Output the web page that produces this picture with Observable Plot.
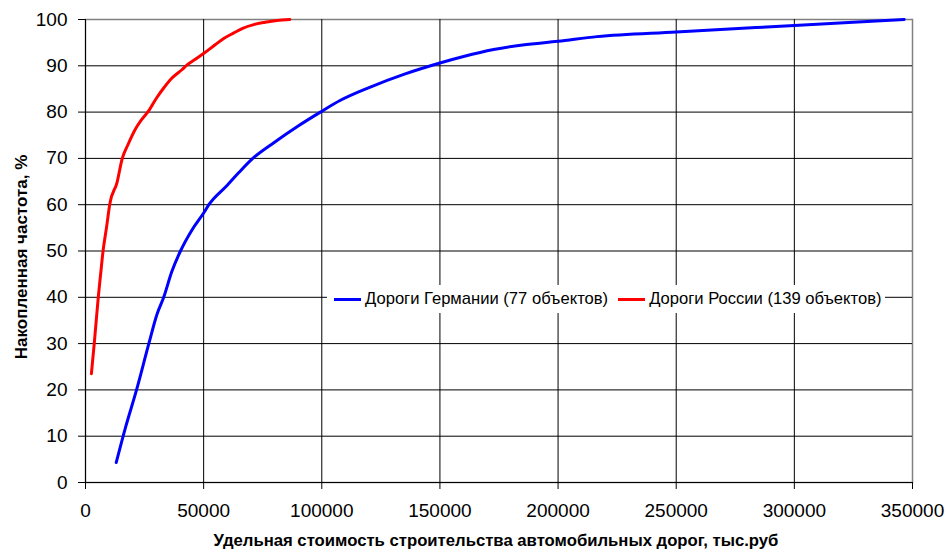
<!DOCTYPE html>
<html>
<head>
<meta charset="utf-8">
<script src="https://cdn.jsdelivr.net/npm/d3@7"></script>
<script src="https://cdn.jsdelivr.net/npm/@observablehq/plot@0.6"></script>
<style>
  html, body { margin: 0; padding: 0; background: #fff; }
  #wrap { position: relative; width: 949px; height: 550px; font-family: "Liberation Sans", Arial, sans-serif; }
  #legend { position: absolute; left: 327px; top: 285px; width: 558px; height: 28px; background: #fff;
            display: flex; align-items: center; font-size: 16.6px; color: #000; white-space: nowrap; }
  .sw { display: inline-block; width: 27px; height: 3px; }
</style>
</head>
<body>
<div id="wrap"></div>
<script>
// Cumulative frequency, Russia (139 objects)
const russiaX = [2500, 3700, 5400, 6300, 7500, 8900, 10300, 13400, 15500, 18000, 21200, 23500, 26800, 30000, 33100, 36500, 40900, 43000, 46500, 50100, 55000, 58500, 62800, 66500, 71200, 76000, 81000, 86500];
const russiaY = [23.5, 30, 40, 44.5, 50.3, 55.1, 60.2, 64.9, 69.9, 73, 76.4, 78.2, 80.3, 83, 85.2, 87.3, 89.2, 90.2, 91.4, 92.7, 94.6, 95.9, 97.1, 98.1, 98.9, 99.4, 99.8, 100];
// Cumulative frequency, Germany (77 objects)
const germanyX = [13000, 17000, 21600, 26800, 30300, 33100, 36500, 40200, 45000, 50000, 52200, 60000, 65000, 70800, 80000, 90000, 99400, 107700, 120000, 135000, 150000, 160000, 172700, 185000, 200000, 216500, 250000, 300000, 346500];
const germanyY = [4.3, 12, 20, 30, 36.4, 40, 45.5, 50, 54.5, 58.2, 60, 64.2, 67, 70, 73.5, 77, 80, 82.5, 85.3, 88.2, 90.6, 92, 93.5, 94.5, 95.3, 96.3, 97.3, 98.7, 100];

const xTicks = [0, 50000, 100000, 150000, 200000, 250000, 300000, 350000];
const yTicks = [0, 10, 20, 30, 40, 50, 60, 70, 80, 90, 100];

const seriesNames = ["Дороги Германии (77 объектов)", "Дороги России (139 объектов)"];
const seriesColors = ["#0000ff", "#ff0000"];
const xTitle = "Удельная стоимость строительства автомобильных дорог, тыс.руб";
const yTitle = "Накопленная частота, %";

const germany = germanyX.map((x, i) => ({x, y: germanyY[i]}));
const russia = russiaX.map((x, i) => ({x, y: russiaY[i]}));

const chart = Plot.plot({
  width: 949, height: 550,
  marginLeft: 85, marginRight: 37, marginTop: 19, marginBottom: 68,
  style: { fontFamily: "'Liberation Sans', Arial, sans-serif", fontSize: "19px", color: "#000", background: "#fff", overflow: "visible" },
  x: { domain: [0, 350000] },
  y: { domain: [0, 100] },
  marks: [
    Plot.frame({ stroke: "#808080", strokeWidth: 1.5 }),
    Plot.gridX(xTicks.slice(0, -1), { stroke: "#000", strokeOpacity: 1, strokeWidth: 1 }),
    Plot.gridY(yTicks.slice(0, -1), { stroke: "#000", strokeOpacity: 1, strokeWidth: 1 }),
    Plot.axisX(xTicks, { tickSize: 7, tickPadding: 14, tickFormat: d => String(d), label: null, stroke: "#000" }),
    Plot.axisY(yTicks, { tickSize: 7, tickPadding: 11, tickFormat: d => String(d), label: null, stroke: "#000" }),
    Plot.line(germany, { x: "x", y: "y", stroke: seriesColors[0], strokeWidth: 3, curve: "monotone-x" }),
    Plot.line(russia, { x: "x", y: "y", stroke: seriesColors[1], strokeWidth: 3, curve: "monotone-x" })
  ]
});

const svg = d3.select(chart);
svg.append("text")
  .attr("x", 496).attr("y", 546)
  .attr("text-anchor", "middle")
  .style("font-size", "16.7px").style("font-weight", "bold")
  .text(xTitle);
svg.append("text")
  .attr("transform", "translate(27,257) rotate(-90)")
  .attr("text-anchor", "middle")
  .style("font-size", "17px").style("font-weight", "bold")
  .text(yTitle);

const wrap = document.getElementById("wrap");
wrap.appendChild(chart);

const legend = document.createElement("div");
legend.id = "legend";
legend.innerHTML =
  `<span class="sw" style="margin-left:7px;background:${seriesColors[0]}"></span>` +
  `<span style="margin-left:4px">${seriesNames[0]}</span>` +
  `<span class="sw" style="margin-left:10px;background:${seriesColors[1]}"></span>` +
  `<span style="margin-left:4px">${seriesNames[1]}</span>`;
wrap.appendChild(legend);
</script>
</body>
</html>
